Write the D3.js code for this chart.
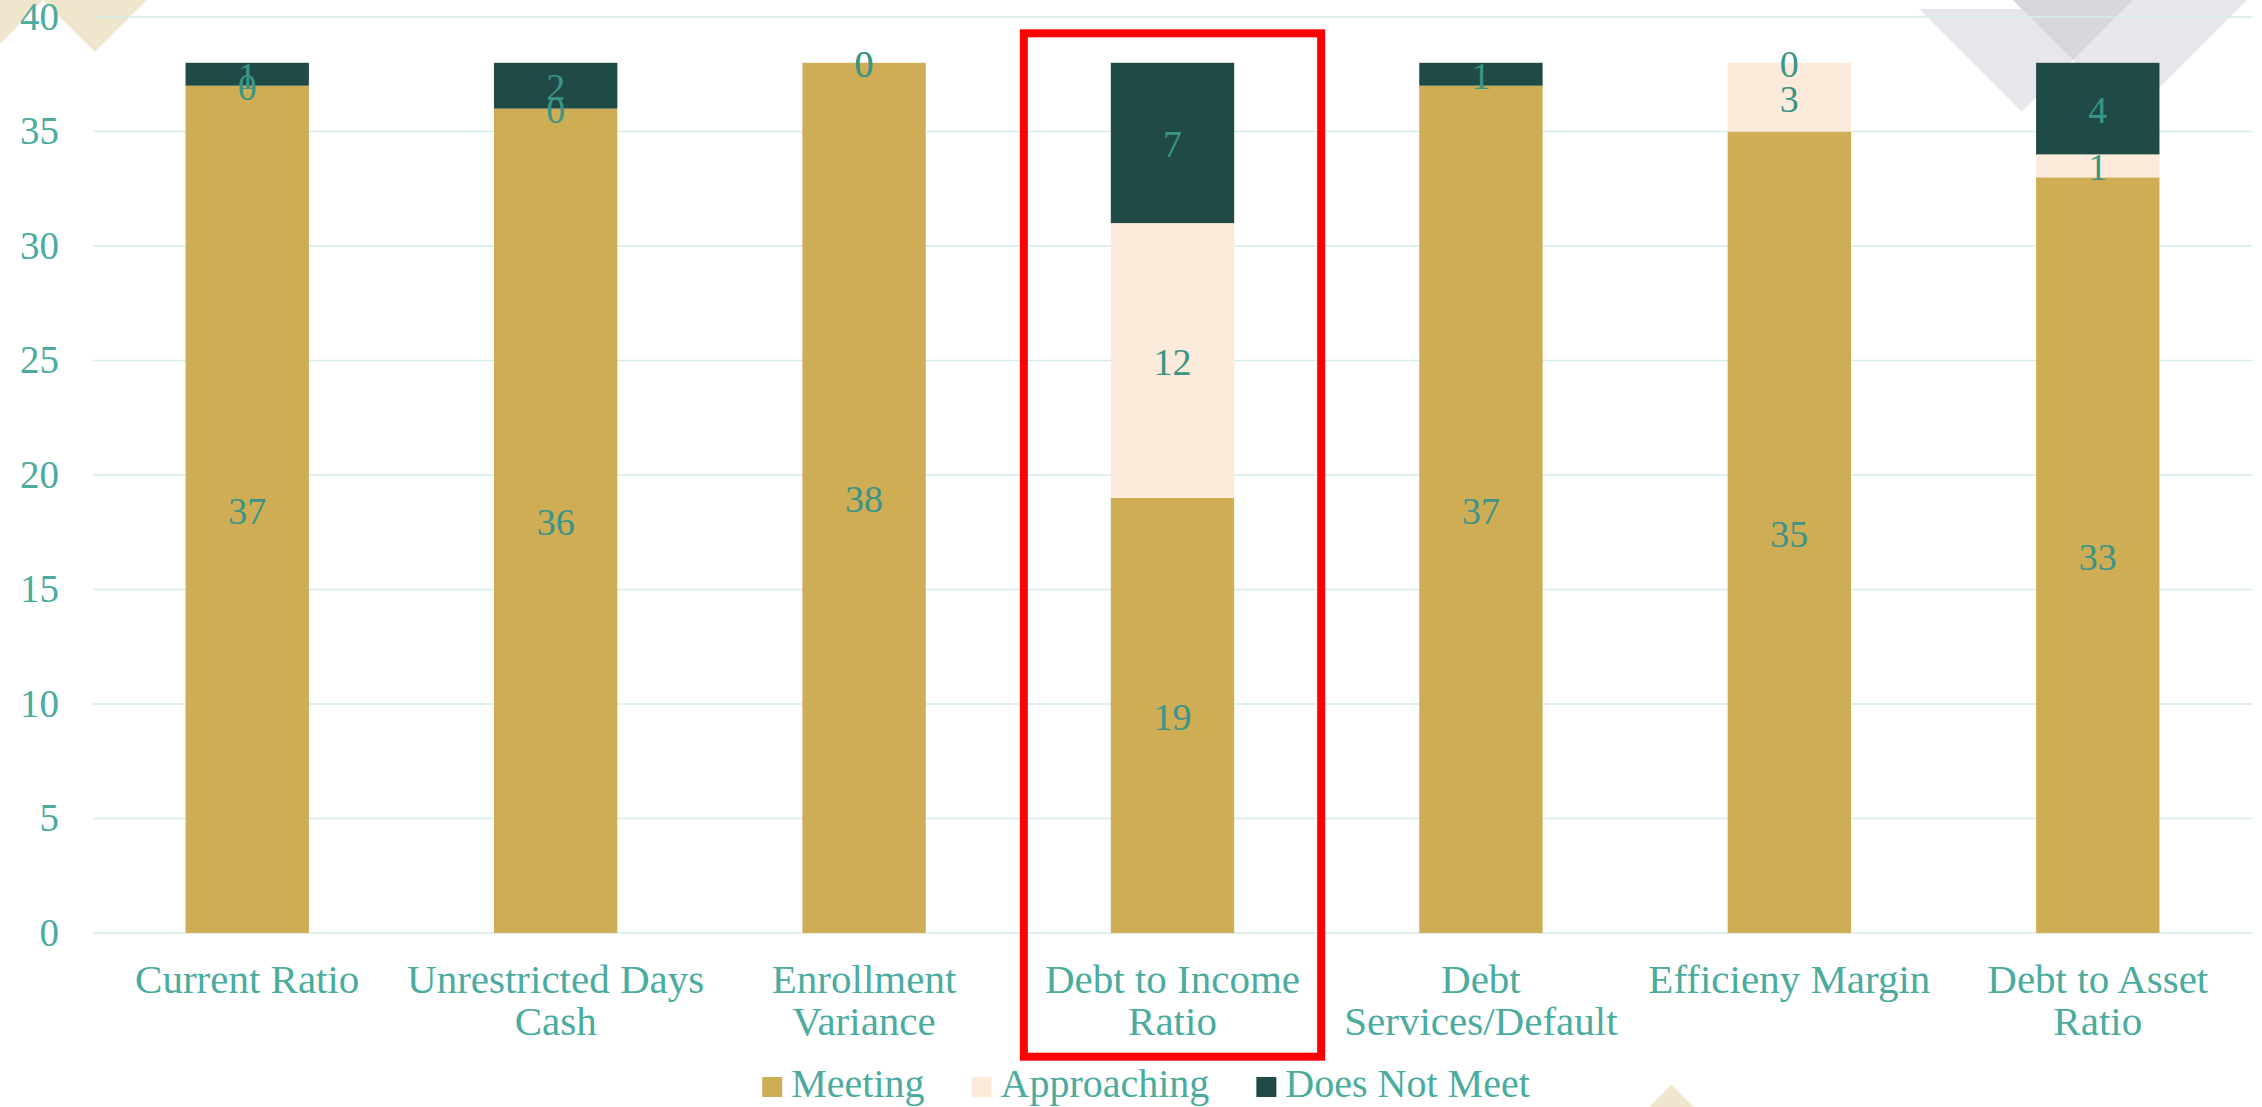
<!DOCTYPE html>
<html>
<head>
<meta charset="utf-8">
<script src="https://cdn.jsdelivr.net/npm/d3@7"></script>
<style>
  body { margin: 0; background: #ffffff; }
  svg { display: block; font-family: "Liberation Serif", "DejaVu Serif", serif; }
</style>
</head>
<body>
<svg id="chart" width="2262" height="1107"></svg>
<script>
// chart data
const categories = ["Current Ratio", "Unrestricted Days Cash", "Enrollment Variance",
    "Debt to Income Ratio", "Debt Services/Default", "Efficieny Margin", "Debt to Asset Ratio"];
const tickLabels = [["Current Ratio"], ["Unrestricted Days", "Cash"], ["Enrollment", "Variance"],
    ["Debt to Income", "Ratio"], ["Debt", "Services/Default"], ["Efficieny Margin"], ["Debt to Asset", "Ratio"]];
const meeting = [37, 36, 38, 19, 37, 35, 33];
const approaching = [0, 0, 0, 12, null, 3, 1];
const doesNotMeet = [1, 2, 0, 7, 1, 0, 4];
const seriesNames = ["Meeting", "Approaching", "Does Not Meet"];
const yTicks = [0, 5, 10, 15, 20, 25, 30, 35, 40];
const highlighted = "Debt to Income Ratio";

const colors = {"Meeting": "#cfad55", "Approaching": "#fcebda", "Does Not Meet": "#1f4a45"};
const textColor = "#4aab9e";
const labelColor = "#3a9487";

let svg = d3.select("#chart");
let margin = {top: 17, right: 10, bottom: 174, left: 93};
let width = 2262;
let height = 1107;

// background decorations
let deco = svg.append("g");
deco.append("polygon").attr("points", "-60,0 43,0 -8,52").attr("fill", "#f0e6cc");
deco.append("polygon").attr("points", "43,0 147,0 95,52").attr("fill", "#f0e6cc");
deco.append("polygon").attr("points", "1919,9 2124,9 2021.5,111.5").attr("fill", "#e6e6eb");
deco.append("polygon").attr("points", "2013,0 2247,0 2130,117").attr("fill", "#e6e6eb");
deco.append("polygon").attr("points", "2013,0 2133,0 2073,60").attr("fill", "#d7d7dc");
deco.append("polygon").attr("points", "1649,1107 1694,1107 1671.5,1084.5").attr("fill", "#f0e6cc");

let x = d3.scaleBand()
    .domain(categories)
    .range([margin.left, width - margin.right])
    .paddingInner(0.6)
    .paddingOuter(0.3);

let y = d3.scaleLinear()
    .domain([0, 40])
    .range([height - margin.bottom, margin.top]);

// gridlines
svg.append("g")
    .selectAll("line")
    .data(yTicks).enter()
    .append("line")
    .attr("x1", margin.left)
    .attr("x2", width - margin.right)
    .attr("y1", d => y(d))
    .attr("y2", d => y(d))
    .attr("stroke", "#d5ecea")
    .attr("stroke-width", 1.5);

// y axis
let yAxis = svg.append("g")
    .attr("transform", "translate(" + (margin.left - 34) + ",0)")
    .call(d3.axisLeft(y).tickValues(yTicks).tickSize(0).tickPadding(0));
yAxis.select(".domain").remove();
yAxis.selectAll("text")
    .attr("fill", textColor)
    .style("font-size", "39px")
    .style("font-family", "Liberation Serif, serif");

// stacked bars
let rows = categories.map((c, i) => ({
    category: c,
    "Meeting": meeting[i],
    "Approaching": approaching[i],
    "Does Not Meet": doesNotMeet[i]
}));

let stack = d3.stack()
    .keys(seriesNames)
    .value((d, key) => d[key] || 0);
let series = stack(rows);

let layers = svg.append("g")
    .selectAll("g.layer")
    .data(series).enter()
    .append("g")
    .classed("layer", true)
    .attr("fill", d => colors[d.key]);

layers.selectAll("rect")
    .data(d => d).enter()
    .append("rect")
    .attr("x", d => x(d.data.category))
    .attr("width", x.bandwidth())
    .attr("y", d => y(d[1]))
    .attr("height", d => y(d[0]) - y(d[1]));

// data labels
let labels = svg.append("g");
series.forEach(s => {
    s.forEach(d => {
        let v = d.data[s.key];
        if (v === null || v === undefined) return;
        labels.append("text")
            .attr("x", x(d.data.category) + x.bandwidth() / 2)
            .attr("y", y((d[0] + d[1]) / 2))
            .attr("dy", "0.38em")
            .attr("text-anchor", "middle")
            .attr("fill", labelColor)
            .style("font-size", "38px")
            .text(v);
    });
});

// category labels
let xLabels = svg.append("g");
categories.forEach((c, i) => {
    let t = xLabels.append("text")
        .attr("x", x(c) + x.bandwidth() / 2)
        .attr("y", 993)
        .attr("text-anchor", "middle")
        .attr("fill", textColor)
        .style("font-size", "41px");
    tickLabels[i].forEach((line, j) => {
        t.append("tspan")
            .attr("x", x(c) + x.bandwidth() / 2)
            .attr("dy", j === 0 ? 0 : 42)
            .text(line);
    });
});

// highlight box
let hx = x(highlighted) + x.bandwidth() / 2;
svg.append("rect")
    .attr("x", hx - x.step() * 0.482)
    .attr("y", 33.3)
    .attr("width", x.step() * 0.964)
    .attr("height", 1023.4)
    .attr("fill", "none")
    .attr("stroke", "#ff0000")
    .attr("stroke-width", 8);

// legend
let legend = svg.append("g");
let cursor = 0;
seriesNames.forEach(name => {
    let item = legend.append("g").attr("transform", "translate(" + cursor + ",0)");
    item.append("rect")
        .attr("x", 0).attr("y", -20)
        .attr("width", 20).attr("height", 20)
        .attr("fill", colors[name]);
    let t = item.append("text")
        .attr("x", 29).attr("y", 0)
        .attr("fill", textColor)
        .style("font-size", "40px")
        .text(name);
    cursor += 29 + t.node().getComputedTextLength() + 47;
});
let legendWidth = cursor - 47;
legend.attr("transform", "translate(" + (1146 - legendWidth / 2) + ",1097)");
</script>
</body>
</html>
